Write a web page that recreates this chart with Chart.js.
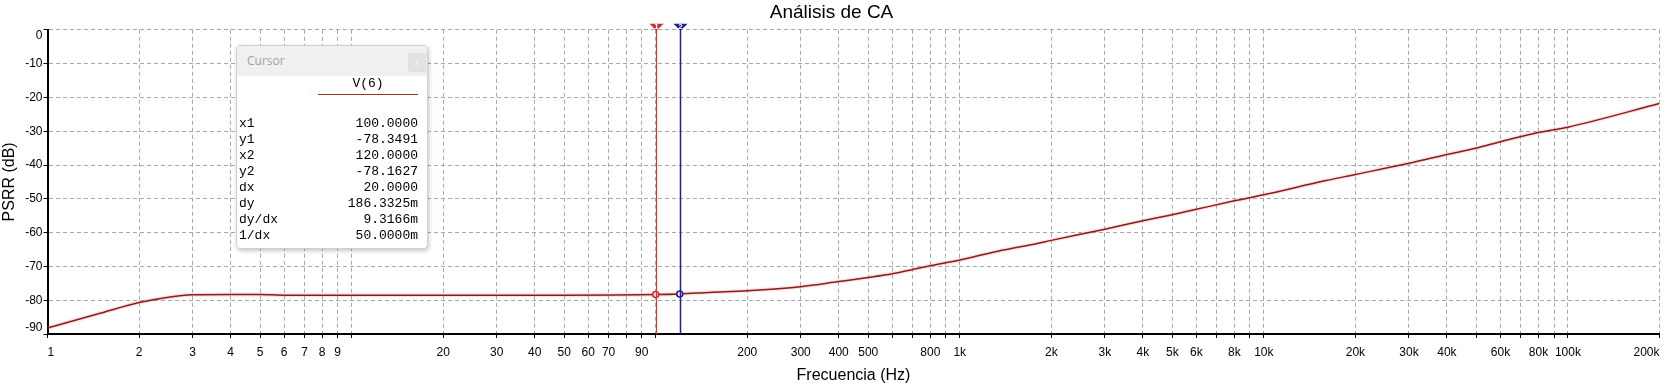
<!DOCTYPE html>
<html>
<head>
<meta charset="utf-8">
<title>Análisis de CA</title>
<script src="https://cdn.jsdelivr.net/npm/chart.js@4/dist/chart.umd.min.js"></script>
<style>
  body { margin: 0; background: #fff; }
  #wrap { position: relative; width: 1665px; height: 385px; }
  #cursorBox {
    position: absolute; left: 236px; top: 45px; width: 190px; height: 202px;
    background: #fff; border: 1px solid #d0d0d0; border-radius: 4px;
    box-shadow: 1px 2px 4px rgba(0,0,0,0.22); overflow: hidden;
    font-family: "Liberation Mono", "Courier New", monospace; font-size: 13px; color: #000;
  }
  #cursorBox .head {
    position: absolute; left: 0; top: 0; right: 0; height: 30px; background: #f0f0f0;
    font-family: "Open Sans", sans-serif; font-size: 12px; color: #a0a0a0;
    line-height: 30px; padding-left: 10px;
  }
  #cursorBox .close {
    position: absolute; right: 1px; top: 7px; width: 18px; height: 19px; background: #e2e2e2;
    color: #f4f4f4; font-size: 10px; line-height: 19px; text-align: center; font-family: "Open Sans", sans-serif;
  }
  #cursorBox .sig { position: absolute; left: 81px; width: 100px; top: 30px; text-align: center; line-height: 16px; }
  #cursorBox .under { position: absolute; left: 81px; width: 100px; top: 48px; height: 1px; background: #a03030; }
  #cursorBox .rows { position: absolute; left: 2px; right: 9px; top: 70px; }
  #cursorBox .row { height: 16px; line-height: 16px; display: flex; justify-content: space-between; }
</style>
</head>
<body>
<div id="wrap">
  <canvas id="theChart" width="1665" height="385"></canvas>
  <div id="cursorBox">
    <div class="head">Cursor</div>
    <div class="close">x</div>
    <div class="sig" id="sigName"></div>
    <div class="under"></div>
    <div class="rows" id="cursorRows"></div>
  </div>
</div>
<script>
// curve (frequency in Hz, PSRR in dB)
const freqHz = [1, 1.5, 2, 2.5, 3, 4, 5, 6, 8, 10, 20, 50, 100, 120, 150, 200, 300, 400, 500, 600, 700, 800, 1000,
  1334, 1800, 2000, 3000, 4000, 5000, 6000, 8000, 10000, 16000, 20000, 30000, 40000, 50000, 60000, 80000, 100000, 200000];
const psrrDb = [-88.2, -83.8, -80.7, -79.1, -78.4, -78.3, -78.3, -78.5, -78.5, -78.5, -78.5, -78.5, -78.35, -78.16, -77.7,
  -77.2, -76.0, -74.5, -73.3, -72.2, -70.9, -69.8, -68.1, -65.5, -63.2, -62.3, -59.0, -56.5, -54.7, -53.1, -50.6, -48.8,
  -44.6, -42.8, -39.5, -36.9, -35.0, -33.1, -30.4, -28.8, -21.8];

// x tick labels that are shown (the others only get a grid line)
const xLabelValues = [1, 2, 3, 4, 5, 6, 7, 8, 9, 20, 30, 40, 50, 60, 70, 90, 200, 300, 400, 500, 800, 1000,
  2000, 3000, 4000, 5000, 6000, 8000, 10000, 20000, 30000, 40000, 60000, 80000, 100000, 200000];
const xLabelTexts = ["1", "2", "3", "4", "5", "6", "7", "8", "9", "20", "30", "40", "50", "60", "70", "90", "200", "300",
  "400", "500", "800", "1k", "2k", "3k", "4k", "5k", "6k", "8k", "10k", "20k", "30k", "40k", "60k", "80k", "100k", "200k"];
const xDecades = [1, 10, 100, 1000, 10000, 100000];
const xMantissas = [1, 2, 3, 4, 5, 6, 7, 8, 9];
const xMin = 1;
const xMax = 200000;
const yMin = -90;
const yMax = 0;

// cursors
const cursorNames = ["1", "2"];
const cursorX = [100, 120];
const cursorY = [-78.3491, -78.1627];
const cursorColors = ["#c83030", "#1c1c9a"];
const cursorLineColors = ["#c04040", "#22227a"];
const signalName = "V(6)";
const readoutLabels = ["x1", "y1", "x2", "y2", "dx", "dy", "dy/dx", "1/dx"];
const readoutValues = ["100.0000", "-78.3491", "120.0000", "-78.1627", "20.0000", "186.3325m", "9.3166m", "50.0000m"];

document.getElementById("sigName").textContent = signalName;
const rowsEl = document.getElementById("cursorRows");
for (let i = 0; i < readoutLabels.length; i++) {
  const row = document.createElement("div");
  row.className = "row";
  row.innerHTML = `<span>${readoutLabels[i]}</span><span>${readoutValues[i]}</span>`;
  rowsEl.appendChild(row);
}

let xGrid = [];
for (const d of xDecades) {
  for (const m of xMantissas) {
    if (m * d <= xMax) xGrid.push(m * d);
  }
}

const labelMap = {};
xLabelValues.forEach((v, i) => (labelMap[v] = xLabelTexts[i]));

const curvePoints = freqHz.map((f, i) => ({ x: f, y: psrrDb[i] }));

// keeps the end labels of the y axis inside the plot, like the original
const yEndLabels = {
  id: "yEndLabels",
  beforeDraw(chart) {
    const items = chart.scales.y.getLabelItems();
    const ticks = chart.scales.y.ticks;
    items.forEach((item, i) => {
      if (ticks[i].value === yMax) item.options.textBaseline = "top";
      if (ticks[i].value === yMin) item.options.textBaseline = "bottom";
    });
  },
};

const cursorPlugin = {
  id: "cursors",
  afterDatasetsDraw(chart) {
    const { ctx, chartArea, scales } = chart;
    ctx.save();
    for (let i = 0; i < cursorX.length; i++) {
      const px = Math.round(scales.x.getPixelForValue(cursorX[i])) + 0.5;
      ctx.strokeStyle = cursorLineColors[i];
      ctx.lineWidth = i === 0 ? 1 : 1.5;
      ctx.beginPath();
      ctx.moveTo(px, chartArea.top - 5);
      ctx.lineTo(px, chartArea.bottom);
      ctx.stroke();
    }
    for (let i = 0; i < cursorX.length; i++) {
      const px = Math.round(scales.x.getPixelForValue(cursorX[i])) + 0.5;
      const top = chartArea.top - 6;
      ctx.fillStyle = cursorColors[i];
      ctx.beginPath();
      ctx.moveTo(px - 7, top);
      ctx.lineTo(px + 7, top);
      ctx.lineTo(px, top + 7);
      ctx.closePath();
      ctx.fill();
      ctx.fillStyle = "#fff";
      ctx.font = "bold 8px 'Liberation Sans', sans-serif";
      ctx.textAlign = "center";
      ctx.textBaseline = "middle";
      ctx.fillText(cursorNames[i], px, top + 3);
    }
    ctx.restore();
  },
};

const chartArea = document.getElementById("theChart");
const myChart = new Chart(chartArea, {
  type: "line",
  data: {
    datasets: [
      {
        label: "V(6)",
        data: curvePoints,
        borderColor: "#8b1c1c",
        borderWidth: 1.5,
        pointRadius: 0,
        cubicInterpolationMode: "monotone",
        order: 2,
      },
      {
        label: "halo",
        data: curvePoints,
        borderColor: "rgba(240,120,120,0.22)",
        borderWidth: 4,
        pointRadius: 0,
        cubicInterpolationMode: "monotone",
        order: 3,
      },
      {
        label: "cursor points",
        data: cursorX.map((x, i) => ({ x, y: cursorY[i] })),
        showLine: false,
        pointRadius: 3,
        pointBorderWidth: 1.5,
        pointBorderColor: cursorColors,
        pointBackgroundColor: ["#ffd6d6", "#f0f0ff"],
        order: 1,
      },
    ],
  },
  options: {
    responsive: false,
    animation: false,
    layout: { padding: { left: 0, right: 2, top: 0, bottom: 0 } },
    plugins: {
      legend: { display: false },
      tooltip: { enabled: false },
      title: {
        display: true,
        text: "Análisis de CA",
        color: "#000",
        font: { family: "'Liberation Sans', Arial, sans-serif", size: 19, weight: "normal" },
        padding: { top: 1, bottom: 6 },
      },
    },
    scales: {
      x: {
        type: "logarithmic",
        min: xMin,
        max: xMax,
        afterBuildTicks: (scale) => {
          scale.ticks = xGrid.map((v) => ({ value: v }));
        },
        afterFit: (scale) => {
          scale.height = 51;
          scale.paddingLeft = 0;
          scale.paddingRight = 0;
        },
        ticks: {
          autoSkip: false,
          maxRotation: 0,
          minRotation: 0,
          align: "inner",
          padding: 7,
          color: "#000",
          font: { family: "'Liberation Sans', Arial, sans-serif", size: 12 },
          callback: (value) => labelMap[value] || "",
        },
        grid: {
          color: "#a8a8a8",
          tickColor: "#000",
          tickBorderDash: [],
          tickLength: 4,
        },
        border: { color: "#000", width: 2, dash: [4, 3] },
        title: {
          display: true,
          text: "Frecuencia (Hz)",
          color: "#000",
          font: { family: "'Liberation Sans', Arial, sans-serif", size: 16 },
          padding: { top: 0, bottom: 0 },
        },
      },
      y: {
        min: yMin,
        max: yMax,
        afterFit: (scale) => {
          scale.width = 47.5;
        },
        ticks: {
          stepSize: 10,
          padding: 1,
          color: "#000",
          font: { family: "'Liberation Sans', Arial, sans-serif", size: 12 },
        },
        grid: {
          color: "#a8a8a8",
          tickColor: "#000",
          tickBorderDash: [],
          tickLength: 4,
        },
        border: { color: "#000", width: 2, dash: [4, 3] },
        title: {
          display: true,
          text: "PSRR (dB)",
          color: "#000",
          font: { family: "'Liberation Sans', Arial, sans-serif", size: 16 },
          padding: { top: 0, bottom: 0 },
        },
      },
    },
  },
  plugins: [yEndLabels, cursorPlugin],
});
</script>
</body>
</html>
